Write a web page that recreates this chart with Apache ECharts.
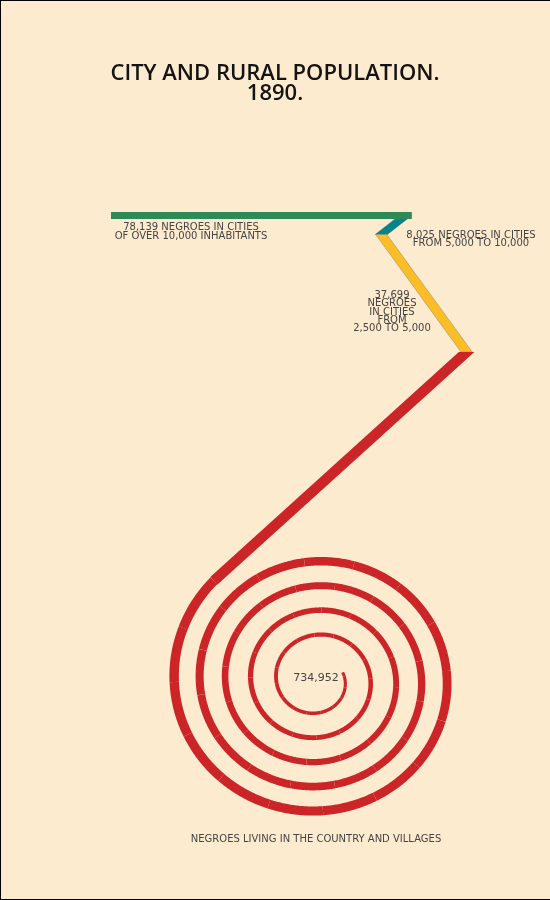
<!DOCTYPE html>
<html>
<head>
<meta charset="utf-8">
<title>City and rural population. 1890.</title>
<script src="https://cdn.jsdelivr.net/npm/echarts@6/dist/echarts.min.js"></script>
<style>
  html, body { margin: 0; padding: 0; background: #fdebcf; }
  #wrap { position: relative; width: 550px; height: 900px; }
  #chart { width: 550px; height: 900px; }
  #frame { position: absolute; left: 0; top: 0; width: 550px; height: 900px; box-sizing: border-box;
           border-top: 1px solid #000; border-left: 1px solid #000; border-bottom: 1px solid #000;
           pointer-events: none; }
</style>
</head>
<body>
<div id="wrap"><div id="chart"></div><div id="frame"></div></div>
<script>
// ---- data ----
var categories = ['CITIES OF OVER 10,000', 'CITIES FROM 5,000 TO 10,000', 'CITIES FROM 2,500 TO 5,000', 'COUNTRY AND VILLAGES'];
var population = [78139, 8025, 37699, 734952];
var labelText = [
  '78,139 NEGROES IN CITIES\nOF OVER 10,000 INHABITANTS',
  '8,025 NEGROES IN CITIES\nFROM 5,000 TO 10,000',
  '37,699\nNEGROES\nIN CITIES\nFROM\n2,500 TO 5,000',
  '734,952'
];
var footText = 'NEGROES LIVING IN THE COUNTRY AND VILLAGES';
var colors = ['#2e8b57', '#00878b', '#fcbd27', '#cc2528'];

// ---- layout of the path (drawing units = px of the 550x900 canvas) ----
var UNIT = 0.00385;             // path length per person
var origin = [111, 215.5];
var headings = [0, 142, 54];    // direction of the three city segments, degrees (screen)
var halfW = [3.6, 6.2, 5.6, 7.8];   // half thickness (horizontal cut for slanted bars)
var spiral = { cx: 317, cy: 680, r0: 146, a0: 225, pitch: 25.5, yScale: 0.96 };

function dir(deg) { var a = deg * Math.PI / 180; return [Math.cos(a), Math.sin(a)]; }

// segment start / end points
var segs = [];
var p = origin;
for (var i = 0; i < 3; i++) {
  // the teal bar tucks in under the end of the green one
  if (i === 1) p = [p[0] - halfW[1], p[1]];
  var d = dir(headings[i]), L = population[i] * UNIT;
  var q = [p[0] + d[0] * L, p[1] + d[1] * L];
  segs.push([p, q]);
  p = q;
}
function spiralPt(r, phi) {
  return [spiral.cx + r * Math.cos(phi), spiral.cy + r * Math.sin(phi) * spiral.yScale];
}
var a0 = spiral.a0 * Math.PI / 180;
var sStart = spiralPt(spiral.r0, a0);
segs.push([p, sStart]);

// quad for a straight bar: horizontal cut ends (vertical for the flat bar), last end square
function bar(p1, p2, hw, squareEnd) {
  var dx = p2[0] - p1[0], dy = p2[1] - p1[1], len = Math.sqrt(dx * dx + dy * dy);
  function side(o) { return (dx * o[1] - dy * o[0]) < 0 ? [-o[0], -o[1]] : o; }
  var o1 = Math.abs(dy) < 1e-6 ? [0, hw] : [hw, 0];
  var perp = hw * Math.abs(dy) / len;
  var o2 = squareEnd ? [-dy / len * perp, dx / len * perp] : o1;
  o1 = side(o1); o2 = side(o2);
  return [[p1[0] + o1[0], p1[1] + o1[1]], [p2[0] + o2[0], p2[1] + o2[1]],
          [p2[0] - o2[0], p2[1] - o2[1]], [p1[0] - o1[0], p1[1] - o1[1]]];
}

var bars = [];
// teal & yellow first so the green bar sits on top of its joint
[1, 2, 0, 3].forEach(function (k) {
  bars.push({ k: k, pts: bar(segs[k][0], segs[k][1], halfW[k], k === 3) });
});

// the spiral takes whatever is left of the rural length
var straight = Math.sqrt(Math.pow(sStart[0] - p[0], 2) + Math.pow(sStart[1] - p[1], 2));
var remain = population[3] * UNIT - straight;
var b = spiral.pitch / (2 * Math.PI), step = 0.01, phi = a0, run = 0;
var spPts = [sStart];
var spR = [spiral.r0];
while (run < remain) {
  phi -= step;
  var r = spiral.r0 - b * (a0 - phi);
  if (r < 4) break;
  var pt = spiralPt(r, phi), last = spPts[spPts.length - 1];
  run += Math.sqrt(Math.pow(pt[0] - last[0], 2) + Math.pow(pt[1] - last[1], 2));
  spPts.push(pt);
  spR.push(r);
}
var chunks = [], CH = 40;
for (var s = 0; s < spPts.length - 1; s += CH) {
  var e = Math.min(s + CH, spPts.length - 1);
  var rm = spR[Math.floor((s + e) / 2)];
  var w = Math.max(2.6, Math.min(9.6, 3 + 6.5 * (rm - 26) / 118));
  chunks.push({ pts: spPts.slice(s, e + 1), w: w });
}

var txt = { fontFamily: 'DejaVu Sans', fill: '#444', textAlign: 'center' };
function label(x, y, text, size, lh) {
  return { type: 'text', x: x, y: y, silent: true,
           style: Object.assign({ text: text, fontSize: size, lineHeight: lh || size }, txt) };
}

var chart = echarts.init(document.getElementById('chart'));
chart.setOption({
  backgroundColor: '#fdebcf',
  animation: false,
  title: {
    text: 'CITY AND RURAL POPULATION.\n1890.',
    left: 'center',
    top: 58,
    textStyle: { fontFamily: 'Open Sans', fontWeight: 600, fontSize: 22, lineHeight: 20.5, color: '#141414' }
  },
  grid: { left: 0, right: 0, top: 0, bottom: 0 },
  xAxis: { type: 'value', min: 0, max: 550, show: false },
  yAxis: { type: 'value', min: 0, max: 900, inverse: true, show: false },
  series: [
    {
      type: 'custom',
      name: 'city',
      silent: true,
      data: bars.map(function (bItem) { return bItem.pts[0]; }),
      renderItem: function (params, api) {
        var it = bars[params.dataIndex];
        return {
          type: 'polygon',
          shape: { points: it.pts.map(function (pt) { return api.coord(pt); }) },
          style: { fill: colors[it.k], stroke: (it.k === 1 || it.k === 2) ? 'rgba(110,110,110,0.55)' : null, lineWidth: 0.7 }
        };
      }
    },
    {
      type: 'custom',
      name: categories[3],
      silent: true,
      data: chunks.map(function (c) { return c.pts[0]; }),
      renderItem: function (params, api) {
        var c = chunks[params.dataIndex];
        return {
          type: 'polyline',
          shape: { points: c.pts.map(function (pt) { return api.coord(pt); }) },
          style: { stroke: colors[3], lineWidth: c.w, fill: null, lineCap: 'butt', lineJoin: 'round' }
        };
      }
    }
  ],
  graphic: [
    label(191, 223.5, labelText[0], 10, 8.6),
    label(471, 231, labelText[1], 10, 8.6),
    label(392, 291.5, labelText[2], 10, 8.2),
    label(316, 673, labelText[3], 11),
    label(316, 834, footText, 10)
  ]
});
</script>
</body>
</html>
